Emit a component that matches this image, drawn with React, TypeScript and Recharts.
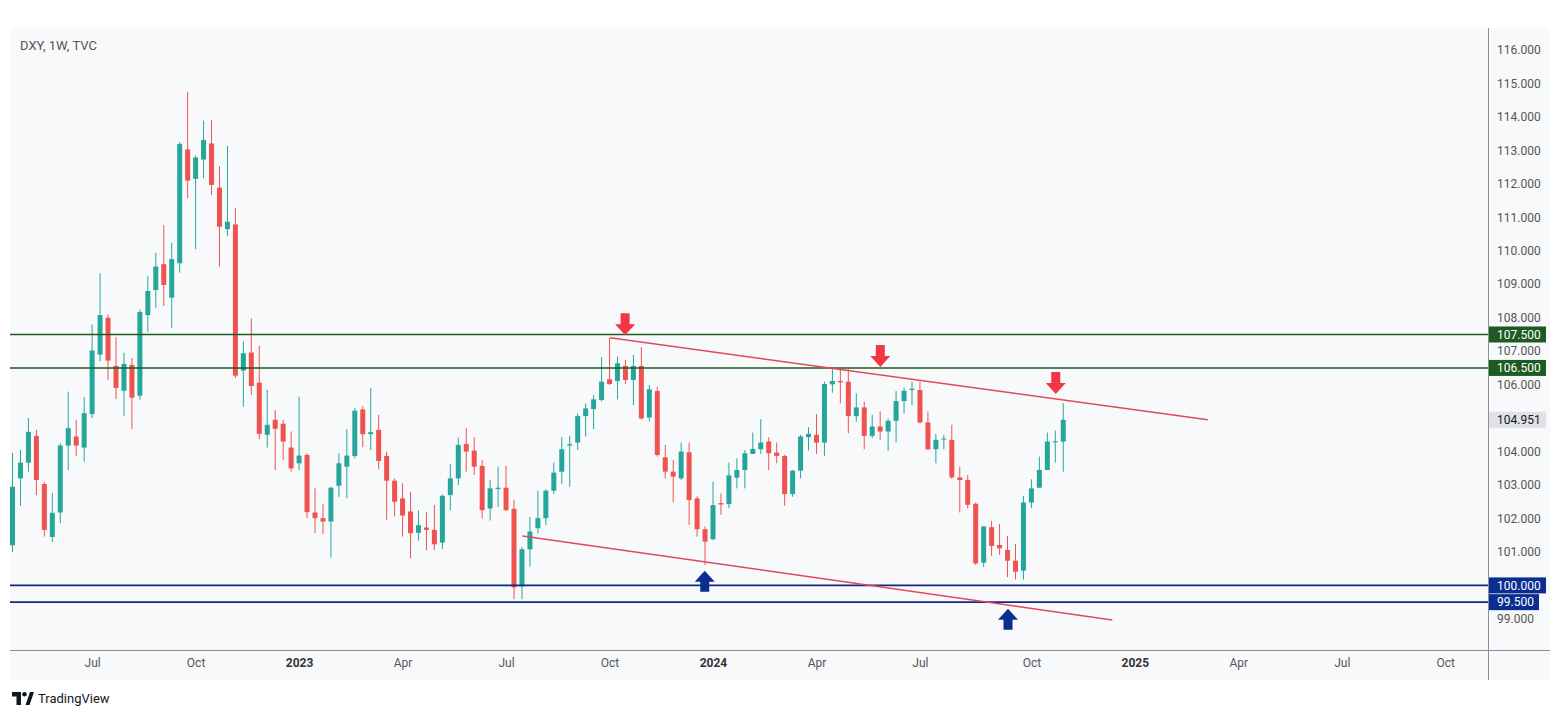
import React from 'react';
import { ComposedChart, Bar, XAxis, YAxis, ReferenceLine, ReferenceDot } from 'recharts';

// weekly DXY candles, first bar = week of 2022-04-25
const opens = [
  101.2, 103.2, 103.67, 104.47, 103.03, 101.45, 102.18, 104.18, 104.45, 104.12,
  105.12, 106.9, 108.0, 106.56, 105.82, 106.59, 105.67, 108.08, 108.83, 109.6,
  108.6, 109.63, 113.03, 112.15, 112.73, 113.21, 111.89, 110.65, 110.79, 106.42,
  106.96, 106.06, 104.5, 104.95, 104.83, 104.12, 103.65, 103.9, 102.18, 102.01,
  101.91, 102.98, 103.55, 103.87, 105.26, 104.52, 104.65, 103.87, 103.13, 102.6,
  102.21, 101.57, 101.73, 101.66, 101.28, 102.7, 103.2, 104.23, 104.03, 103.57,
  102.3, 102.88, 102.92, 102.29, 99.97, 101.08, 101.71, 102.01, 102.83, 103.4,
  104.18, 104.27, 105.06, 105.27, 105.54, 106.16, 106.11, 106.56, 106.14, 106.56,
  105.02, 105.81, 103.83, 103.4, 103.2, 103.98, 102.6, 101.68, 101.38, 102.46,
  102.43, 103.22, 103.45, 103.93, 104.07, 104.3, 103.97, 103.87, 102.73, 103.43,
  104.43, 104.5, 104.27, 106.01, 106.11, 106.09, 105.06, 105.32, 104.47, 104.75,
  104.6, 104.92, 105.51, 105.84, 105.84, 104.87, 104.07, 104.36, 104.35, 103.23,
  103.15, 102.44, 100.68, 101.74, 101.21, 101.06, 100.74, 100.44, 102.48, 102.92,
  103.45, 104.29, 104.3,
];
const highs = [
  103.96, 104.05, 105.0, 104.65, 103.1, 102.76, 104.25, 105.79, 104.95, 105.63,
  107.8, 109.33, 108.1, 107.42, 106.95, 106.8, 108.25, 109.24, 109.94, 110.77,
  110.24, 113.25, 114.75, 112.85, 113.89, 113.91, 112.53, 113.13, 111.27, 107.29,
  107.98, 107.16, 105.84, 105.24, 104.95, 104.6, 105.64, 103.95, 102.9, 102.44,
  102.95, 103.95, 104.67, 105.3, 105.36, 105.9, 105.1, 104.0, 103.2, 103.05,
  102.8, 102.24, 102.19, 102.41, 102.72, 103.63, 104.42, 104.7, 104.43, 103.75,
  103.15, 103.55, 103.57, 102.56, 101.15, 102.04, 102.83, 102.87, 103.67, 104.43,
  104.47, 105.14, 105.44, 105.69, 106.82, 107.4, 106.84, 106.74, 106.89, 107.12,
  105.99, 105.94, 104.2, 103.75, 104.27, 104.27, 102.67, 101.76, 103.1, 102.75,
  103.67, 103.8, 104.05, 104.57, 104.97, 104.43, 104.27, 103.9, 103.45, 104.5,
  104.73, 105.12, 106.09, 106.49, 106.49, 106.46, 105.74, 105.49, 105.1, 105.2,
  104.99, 105.81, 105.91, 106.09, 106.09, 105.2, 104.53, 104.5, 104.8, 103.55,
  103.3, 102.48, 101.78, 101.93, 101.84, 101.48, 101.24, 102.67, 103.17, 103.85,
  104.57, 104.63, 105.45,
];
const lows = [
  101.0, 102.38, 103.4, 102.7, 101.46, 101.3, 101.86, 103.45, 103.87, 103.7,
  105.0, 106.7, 106.14, 105.57, 105.07, 104.67, 105.55, 107.58, 108.3, 108.35,
  107.7, 109.35, 111.57, 110.05, 112.17, 111.67, 109.53, 110.44, 106.2, 105.34,
  105.69, 104.37, 104.12, 103.45, 103.75, 103.4, 103.45, 102.01, 101.56, 101.54,
  100.84, 102.65, 102.61, 103.8, 104.13, 104.05, 103.47, 101.96, 102.06, 101.46,
  100.81, 101.34, 101.05, 101.06, 101.08, 102.24, 103.0, 103.4, 103.3, 102.0,
  101.94, 102.35, 102.22, 99.59, 99.59, 100.56, 101.56, 101.8, 102.73, 103.03,
  102.95, 104.05, 104.45, 104.67, 105.5, 105.99, 105.56, 106.02, 105.39, 104.96,
  104.9, 103.85, 103.2, 102.48, 103.15, 101.81, 101.46, 100.61, 101.35, 102.11,
  102.31, 102.9, 102.9, 103.93, 103.93, 103.45, 103.65, 102.38, 102.65, 103.2,
  104.03, 103.93, 103.87, 105.76, 105.44, 104.55, 104.89, 104.07, 104.4, 104.35,
  104.02, 104.27, 105.14, 105.39, 104.84, 104.05, 103.65, 104.07, 103.18, 102.18,
  102.3, 100.61, 100.55, 100.88, 100.91, 100.25, 100.18, 100.18, 102.31, 102.92,
  103.45, 103.67, 103.4,
];
const closes = [
  102.95, 103.67, 104.59, 103.15, 101.66, 102.17, 104.18, 104.7, 104.18, 105.15,
  107.02, 108.08, 106.72, 105.9, 106.62, 105.61, 108.17, 108.8, 109.53, 108.98,
  109.75, 113.19, 112.1, 112.79, 113.31, 111.97, 110.72, 110.87, 106.27, 106.94,
  105.96, 104.53, 104.8, 104.68, 104.3, 103.5, 103.88, 102.19, 102.01, 101.91,
  102.92, 103.65, 103.88, 105.22, 104.52, 104.58, 103.72, 103.13, 102.5, 102.09,
  101.56, 101.8, 101.66, 101.23, 102.68, 103.2, 104.2, 104.0, 103.55, 102.25,
  102.9, 102.92, 102.25, 99.94, 101.08, 101.61, 102.01, 102.83, 103.37, 104.07,
  104.22, 105.06, 105.29, 105.56, 106.09, 106.02, 106.64, 106.14, 106.56, 104.99,
  105.86, 103.9, 103.4, 103.25, 104.0, 102.55, 101.68, 101.31, 102.4, 102.42,
  103.29, 103.45, 103.95, 104.08, 104.27, 103.95, 103.87, 102.73, 103.43, 104.45,
  104.53, 104.27, 106.02, 106.11, 106.07, 105.06, 105.32, 104.47, 104.75, 104.6,
  104.92, 105.51, 105.82, 105.88, 104.87, 104.07, 104.35, 104.39, 103.23, 103.15,
  102.41, 100.66, 101.76, 101.18, 101.11, 100.74, 100.41, 102.48, 102.9, 103.45,
  104.3, 104.31, 104.95,
];

// x axis: bar index of the first weekly bar of each labelled month
const tickIdx = [10, 23, 36, 49, 62, 75, 88, 101, 114, 128, 141, 154, 167, 180];
const tickLabels = ['Jul', 'Oct', '2023', 'Apr', 'Jul', 'Oct', '2024', 'Apr', 'Jul', 'Oct', '2025', 'Apr', 'Jul', 'Oct'];

const priceTicks = [99, 99.5, 100, 101, 102, 103, 104, 104.951, 106, 106.5, 107, 107.5, 108, 109, 110, 111, 112, 113, 114, 115, 116];
const resistance = [107.5, 106.5];
const support = [100.0, 99.5];
const lastPrice = 104.951;

// trend lines: [index, price]
const upperLine = [[75, 107.4], [150.1, 104.95]];
const lowerLine = [[64, 101.48], [138.1, 98.97]];
const downArrows = [[76.9, 107.48], [108.96, 106.53], [131, 105.72]];
const upArrows = [[86.9, 100.44], [125, 99.3]];

const UP = '#26a69a';
const DOWN = '#ef5350';
const GREEN_LINE = '#1e5b22';
const BLUE_LINE = '#0d2a80';
const TREND = '#e2485c';
const FONT = 'Roboto, "Liberation Sans", sans-serif';

const data = opens.map((o, i) => ({ i, open: o, high: highs[i], low: lows[i], close: closes[i] }));

const Candle = (props: any) => {
  const { x, y, width, height, payload } = props;
  if (x == null || y == null || !payload) return null;
  const { open, high, low, close } = payload;
  const top = Math.min(y, y + height);
  const h = Math.abs(height);
  const px = (v: number) => top + ((high - v) / (high - low)) * h;
  const color = close >= open ? UP : DOWN;
  const cx = x + width / 2;
  const bTop = px(Math.max(open, close));
  const bBot = px(Math.min(open, close));
  return (
    <g>
      <line x1={cx} x2={cx} y1={top} y2={top + h} stroke={color} strokeWidth={1} />
      <rect x={x} y={bTop} width={width} height={Math.max(1, bBot - bTop)} fill={color} />
    </g>
  );
};

const XTick = (props: any) => {
  const { x, y, payload } = props;
  const k = tickIdx.indexOf(payload.value);
  const label = k >= 0 ? tickLabels[k] : '';
  const isYear = /^\d{4}$/.test(label);
  return (
    <text x={x} y={y} dy="0.71em" textAnchor="middle" fontSize={12} fontFamily={FONT}
      fontWeight={isYear ? 700 : 400} fill={isYear ? '#333' : '#555'}>
      {label}
    </text>
  );
};

const tagStyle = (v: number) => {
  if (resistance.includes(v)) return { bg: GREEN_LINE, fg: '#fff' };
  if (support.includes(v)) return { bg: '#0b2d92', fg: '#fff' };
  if (v === lastPrice) return { bg: '#dfe1e6', fg: '#131722' };
  return null;
};

const YTick = (props: any) => {
  const { x, y, payload } = props;
  const v = payload.value as number;
  const txt = v.toFixed(3);
  const tag = tagStyle(v);
  if (!tag) {
    return (
      <text x={x + 1} y={y} dy="0.35em" fontSize={12} fontFamily={FONT} fill="#555">{txt}</text>
    );
  }
  const w = txt.length * 7 + 8;
  return (
    <g>
      <rect x={x - 7} y={y - 8} width={w} height={16} fill={tag.bg} />
      <text x={x + 1} y={y} dy="0.35em" fontSize={12} fontFamily={FONT} fill={tag.fg}>{txt}</text>
    </g>
  );
};

const DownArrow = (props: any) => {
  const { cx, cy } = props;
  const d = `M${cx} ${cy} L${cx - 10} ${cy - 11} L${cx - 4.5} ${cy - 11} L${cx - 4.5} ${cy - 22} L${cx + 4.5} ${cy - 22} L${cx + 4.5} ${cy - 11} L${cx + 10} ${cy - 11} Z`;
  return <path d={d} fill="#f23645" />;
};

const UpArrow = (props: any) => {
  const { cx, cy } = props;
  const d = `M${cx} ${cy} L${cx - 10} ${cy + 11} L${cx - 4.5} ${cy + 11} L${cx - 4.5} ${cy + 21} L${cx + 4.5} ${cy + 21} L${cx + 4.5} ${cy + 11} L${cx + 10} ${cy + 11} Z`;
  return <path d={d} fill="#0b2d92" />;
};

export default function App() {
  return (
    <div style={{ position: 'absolute', left: 0, top: 0, width: 1560, height: 718, background: '#fff', overflow: 'hidden' }}>
      <div style={{ position: 'absolute', left: 10, top: 28, width: 1540, height: 652, background: '#f8f9fb' }} />
      <div style={{ position: 'absolute', left: 1488, top: 28, width: 1, height: 652, background: '#8c8f97' }} />
      <div style={{ position: 'absolute', left: 10, top: 650, width: 1540, height: 1, background: '#8c8f97' }} />
      <div style={{ position: 'absolute', left: 0, top: 0 }}>
        <ComposedChart width={1560} height={718} data={data} margin={{ top: 30, right: 12, left: 10, bottom: 38 }}>
          <XAxis dataKey="i" type="number" domain={[-0.377, 185.3]} allowDataOverflow ticks={tickIdx} interval={0}
            height={30} axisLine={false} tickLine={false} tick={<XTick />} />
          <YAxis orientation="right" domain={[98.07, 116.6]} allowDataOverflow ticks={priceTicks} interval={0}
            width={60} axisLine={false} tickLine={false} tick={<YTick />} />
          {resistance.map((v) => (
            <ReferenceLine key={'r' + v} y={v} stroke={GREEN_LINE} strokeWidth={1.6} />
          ))}
          {support.map((v) => (
            <ReferenceLine key={'s' + v} y={v} stroke={BLUE_LINE} strokeWidth={1.6} />
          ))}
          <ReferenceLine segment={[{ x: upperLine[0][0], y: upperLine[0][1] }, { x: upperLine[1][0], y: upperLine[1][1] }]}
            stroke={TREND} strokeWidth={1.5} />
          <ReferenceLine segment={[{ x: lowerLine[0][0], y: lowerLine[0][1] }, { x: lowerLine[1][0], y: lowerLine[1][1] }]}
            stroke={TREND} strokeWidth={1.5} />
          <Bar dataKey={(d: any) => [d.low, d.high]} barSize={5} shape={<Candle />} isAnimationActive={false} />
          {downArrows.map(([x, y]) => (
            <ReferenceDot key={'d' + x} x={x} y={y} r={10} shape={<DownArrow />} />
          ))}
          {upArrows.map(([x, y]) => (
            <ReferenceDot key={'u' + x} x={x} y={y} r={10} shape={<UpArrow />} />
          ))}
        </ComposedChart>
      </div>
      <div style={{ position: 'absolute', left: 20, top: 38, fontSize: 13, fontFamily: FONT, color: '#555' }}>
        DXY, 1W, TVC
      </div>
      <div style={{ position: 'absolute', left: 12, top: 691, display: 'flex', alignItems: 'center', gap: 4 }}>
        <svg width={22} height={13} viewBox="0 0 22 13">
          <path d="M0 0 H9 V13 H4.5 V4.5 H0 Z" fill="#131722" />
          <circle cx={12.5} cy={2.3} r={2.3} fill="#131722" />
          <path d="M13.5 13 L18 0 H22 L17.5 13 Z" fill="#131722" />
        </svg>
        <span style={{ fontSize: 13, fontFamily: FONT, color: '#131722' }}>TradingView</span>
      </div>
    </div>
  );
}
